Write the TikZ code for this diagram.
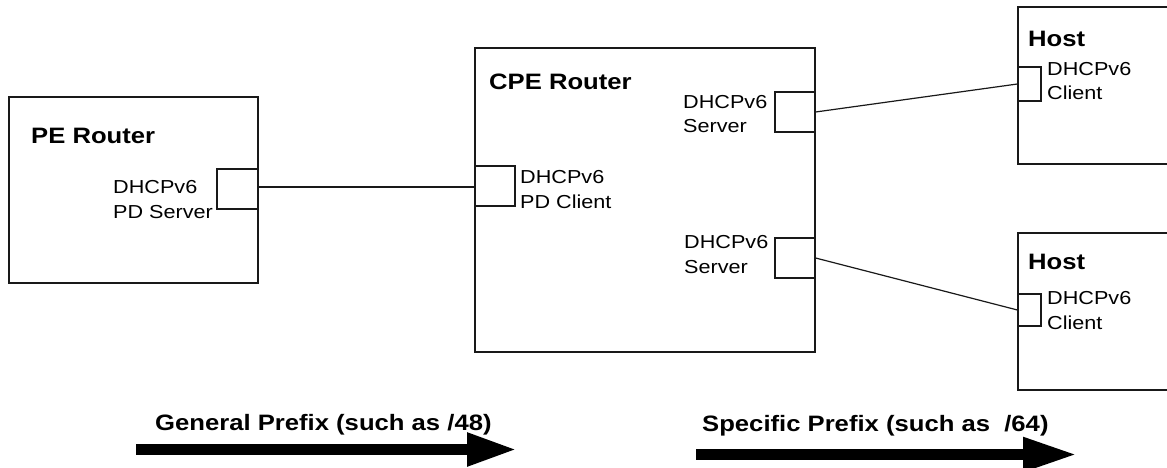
\documentclass[tikz,border=0pt]{standalone}
\usepackage{fontspec}
\usetikzlibrary{arrows.meta}
\newfontfamily\diagfont[FakeStretch=1.15]{Liberation Sans}
\begin{document}
\begin{tikzpicture}[x=1pt,y=-1pt,
  box/.style={draw=black!90, line width=1.2pt, inner sep=0pt},
  port/.style={draw=black!90, line width=1.2pt, inner sep=0pt, fill=white},
  title/.style={anchor=west, inner sep=0pt, font=\diagfont\bfseries\fontsize{22.3}{26}\selectfont},
  lbl/.style={anchor=west, inner sep=0pt, align=left, font=\diagfont\fontsize{18.8}{24.5}\selectfont},
  wire/.style={draw=black!90, line width=1.2pt},
  bigarrow/.style={line width=11pt, -{Triangle[length=50pt,width=31pt]}},
  biglabel/.style={anchor=base west, inner sep=0pt, font=\diagfont\bfseries\fontsize{22.3}{26}\selectfont}]
\useasboundingbox[fill=white] (0,0) rectangle (1167,468);

% boxes
\node[box, minimum width=249pt, minimum height=186pt] (pe) at (133.5,190) {};
\node[box, minimum width=340pt, minimum height=304pt] (cpe) at (645,200) {};
\node[box, minimum width=170pt, minimum height=157pt] (h1) at (1103,85.5) {};
\node[box, minimum width=170pt, minimum height=157pt] (h2) at (1103,311.5) {};

% titles
\node[title] (pet) at (31,136) {PE Router};
\node[title] (cpet) at (489,82) {CPE Router};
\node[title] (h1t) at (1028,39) {Host};
\node[title] (h2t) at (1028,262) {Host};

% ports
\node[port, minimum width=41pt, minimum height=40pt] (pep) at (237.5,189) {};
\node[port, minimum width=40pt, minimum height=40pt] (cpep) at (495,186) {};
\node[port, minimum width=40pt, minimum height=40pt] (s1) at (795,112) {};
\node[port, minimum width=40pt, minimum height=40pt] (s2) at (795,258) {};
\node[port, minimum width=23pt, minimum height=34pt] (c1) at (1029.5,84) {};
\node[port, minimum width=23pt, minimum height=32pt] (c2) at (1029.5,310) {};

% port labels
\node[lbl] (pel) at (113,199.5) {DHCPv6\\PD Server};
\node[lbl] (cpel) at (520,189.5) {DHCPv6\\PD Client};
\node[lbl] (s1l) at (683,114) {DHCPv6\\Server};
\node[lbl] (s2l) at (684,254.5) {DHCPv6\\Server};
\node[lbl] (c1l) at (1047,81) {DHCPv6\\Client};
\node[lbl] (c2l) at (1047,310.5) {DHCPv6\\Client};

% wires
\draw[wire] ([yshift=2pt]pep.east) -- ([yshift=2pt]pep.east -| cpep.west);
\draw[wire] (s1.east) -- (c1.west);
\draw[wire] (s2.east) -- (c2.west);

% prefix arrows
\coordinate (a1s) at (136,449.5);
\coordinate (a1e) at (517,449.5);
\coordinate (a2s) at (696,454.5);
\coordinate (a2e) at (1077,454.5);
\draw[bigarrow] (a1s) -- (a1e);
\draw[line width=11pt, -{Triangle[length=54pt,width=32pt]}] (a2s) -- (a2e);
\node[biglabel] (g) at (155,430) {General Prefix (such as /48)};
\node[biglabel] (s) at (702,431) {Specific Prefix (such as \ /64)};
\end{tikzpicture}
\end{document}
